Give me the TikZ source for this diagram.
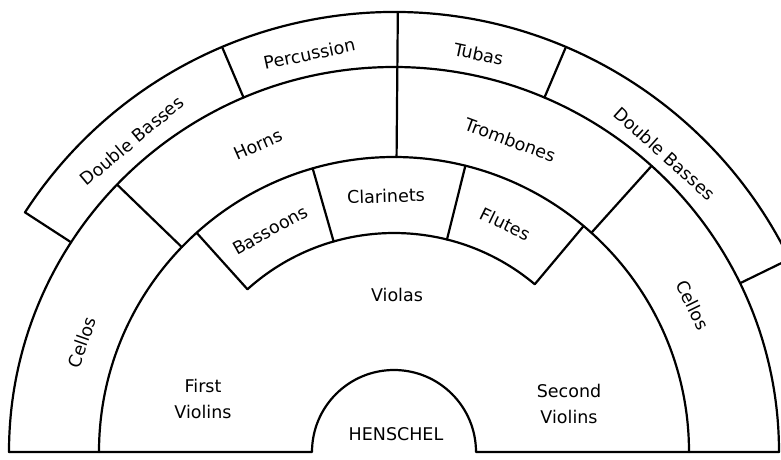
\documentclass[tikz,border=0pt]{standalone}
\usepackage{fontspec}
\setmainfont{DejaVu Sans}
\usepackage{tikz}
\usetikzlibrary{positioning}

\begin{document}
\begin{tikzpicture}[
				x=1pt, y=1pt,
				wall/.style={line width=2.2pt, line join=round, line cap=round},
				part/.style={font=\fontsize{17.5}{26}\selectfont, inner sep=0pt, align=center}
				]
				
				% Frame
				\useasboundingbox (-394,-7) rectangle (387,452);
				\clip (-394,-7) rectangle (387,452);
				\fill[white] (-394,-7) rectangle (387,452);
				
				% Rings
				\draw[wall] (180:385) -- (180:82) arc[start angle=180, end angle=0, radius=82] -- (0:385);
				\draw[wall] (180:385) arc[start angle=180, end angle=0, radius=385];
				\draw[wall] (180:295) arc[start angle=180, end angle=0, radius=295];
				\draw[wall] (147:385) -- (147:440) arc[start angle=147, end angle=26, radius=440] -- (26:385);
				\draw[wall] (132:295) -- (132:219) arc[start angle=132, end angle=50, radius=219] -- (50:295);
				
				% Dividers
				\foreach \a in {113, 67}
				\draw[wall] (\a:385) -- (\a:440);
				\draw[wall] (89.5:295) -- (89.5:440);
				\foreach \a in {136, 48}
				\draw[wall] (\a:295) -- (\a:385);
				\foreach \a in {106, 76}
				\draw[wall] (\a:219) -- (\a:295);
				
				% Nodes
				\node[part, rotate=40] (bassL) at (130.1:407) {Double Basses};
				\node[part, rotate=12] (perc) at (102:407) {Percussion};
				\node[part, rotate=-12] (tubas) at (78:407) {Tubas};
				\node[part, rotate=-42.2] (bassR) at (47.8:403) {Double Basses};
				\node[part, rotate=23.9] (horns) at (113.9:336) {Horns};
				\node[part, rotate=-20.4] (trombones) at (69.6:333) {Trombones};
				\node[part, rotate=70.6] (celloL) at (160.6:331) {Cellos};
				\node[part, rotate=-63.8] (celloR) at (26.2:333) {Cellos};
				\node[part, rotate=29.2] (bassoons) at (119.2:254) {Bassoons};
				\node[part, rotate=1.8] (clarinets) at (91.8:256) {Clarinets};
				\node[part, rotate=-26] (flutes) at (64:254) {Flutes};
				\node[part] (violas) at (3,157) {Violas};
				\node[part] (violin1) at (-191,53) {First\\Violins};
				\node[part] (violin2) at (175,48) {Second\\Violins};
				\node[part] (henschel) at (2,18) {HENSCHEL};
				
			\end{tikzpicture}
\end{document}
